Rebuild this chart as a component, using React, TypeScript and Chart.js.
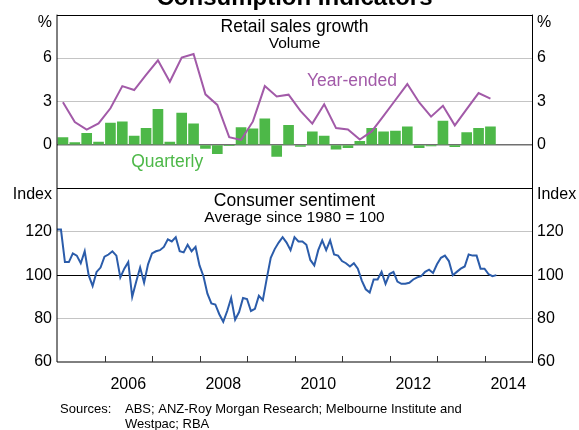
import React, { useEffect, useRef } from 'react';
import { Chart, registerables } from 'chart.js';

Chart.register(...registerables);

// ---- Data ----
const FIRST_YEAR = 2005; // first quarter / month plotted: 2005 Q1 / Jan 2005
const LAST_YEAR = 2015;

// Retail sales volume growth, quarterly (%), 2005Q1 .. 2014Q1
const retailQuarterly = [
  0.5, 0.15, 0.8, 0.2,
  1.5, 1.6, 0.6, 1.15,
  2.45, 0.2, 2.2, 1.45,
  -0.25, -0.6, -0.05, 1.2,
  1.1, 1.8, -0.8, 1.35,
  -0.1, 0.9, 0.6, -0.3,
  -0.2, 0.25, 1.15, 0.9,
  0.95, 1.25, -0.2, -0.07,
  1.65, -0.12, 0.85, 1.15,
  1.25,
];

// Retail sales volume growth, year-ended (%), 2005Q1 .. 2014Q1
const retailYearEnded = [
  2.95, 1.58, 1.05, 1.48,
  2.53, 4.06, 3.79, 4.84,
  5.84, 4.36, 6.03, 6.28,
  3.49, 2.76, 0.53, 0.34,
  1.62, 4.06, 3.35, 3.47,
  2.35, 1.47, 2.81, 1.16,
  1.07, 0.37, 0.93, 2.0,
  3.1, 4.2, 2.93, 1.95,
  2.7, 1.35, 2.47, 3.58,
  3.2,
];

// Consumer sentiment index, monthly, Jan 2005 .. Apr 2014
const sentiment = [
  121, 121, 106, 106, 110, 109, 105.5, 111, 100, 95, 101.5, 103.5,
  108.5, 109.5, 111, 109, 99, 103, 106, 90, 97, 103.5, 96.5, 105,
  110, 111, 111.5, 113, 116.5, 115.5, 117.5, 111, 110.5, 114, 111, 113,
  104.5, 99.5, 91.5, 87, 86.5, 82, 78.5, 83.5, 89.5, 79.5, 83, 89.5,
  89, 83.5, 84.5, 90.5, 88.5, 98.5, 108, 112, 115, 117.5, 115, 111.5,
  117.5, 115.5, 115.5, 114, 107, 104.5, 111.5, 116, 111.5, 116, 109.5, 109,
  106.5, 105.5, 104, 105.5, 103, 97.5, 93.5, 92, 98, 98, 101.5, 96,
  100.5, 101.5, 97, 96, 96, 96.5, 98, 99, 99.5, 101.5, 102.5, 101,
  105, 108, 109, 106.5, 100, 101.5, 103, 104, 109.5, 109, 109, 103,
  103, 100.5, 99.5, 100,
];

const yearLabels = ['2006', '2008', '2010', '2012', '2014'];
const topTicks = [-3, 0, 3, 6, 9];
const bottomTicks = [60, 80, 100, 120, 140];

const GREEN = '#4db848';
const PURPLE = '#a25aa8';
const BLUE = '#2b5caa';
const FONT = 'Arial, "Liberation Sans", Helvetica, sans-serif';

const annotate = {
  id: 'annotate',
  afterDraw(chart: any) {
    const { ctx, chartArea: ca, scales } = chart;
    const x = scales.x;
    const yT = scales.yTop;
    const yB = scales.yBot;
    const cx = (ca.left + ca.right) / 2;
    ctx.save();

    const hline = (y: number, x1: number, x2: number, color: string, crisp = true) => {
      const yy = crisp ? Math.round(y) + 0.5 : Math.round(y);
      ctx.beginPath();
      ctx.strokeStyle = color;
      ctx.lineWidth = 1;
      ctx.moveTo(x1, yy);
      ctx.lineTo(x2, yy);
      ctx.stroke();
    };
    const vline = (xv: number, y1: number, y2: number, color: string, crisp = true) => {
      const xx = crisp ? Math.round(xv) + 0.5 : Math.round(xv);
      ctx.beginPath();
      ctx.strokeStyle = color;
      ctx.lineWidth = 1;
      ctx.moveTo(xx, y1);
      ctx.lineTo(xx, y2);
      ctx.stroke();
    };

    // frame
    hline(yT.getPixelForValue(9), ca.left, ca.right, '#000');
    hline(yB.getPixelForValue(140), ca.left, ca.right, '#000');
    hline(yB.getPixelForValue(60), ca.left, ca.right, '#000', false);
    vline(ca.left, ca.top, ca.bottom, '#000', false);
    vline(ca.right, ca.top, ca.bottom + 1, '#000');

    // year tick marks on bottom axis
    for (let yr = FIRST_YEAR + 1; yr < LAST_YEAR; yr++) {
      const px = x.getPixelForValue(yr);
      vline(px, ca.bottom - 6, ca.bottom, '#333');
    }

    ctx.fillStyle = '#000';
    ctx.textBaseline = 'alphabetic';

    // chart title (cut off at the top)
    ctx.textAlign = 'center';
    ctx.font = `bold 24px ${FONT}`;
    ctx.fillText('Consumption Indicators', cx, 5);

    // panel titles
    ctx.font = `17.5px ${FONT}`;
    ctx.fillText('Retail sales growth', cx, yT.top + 17.5);
    ctx.fillText('Consumer sentiment', cx, yB.top + 17.5);
    ctx.font = `15.5px ${FONT}`;
    ctx.fillText('Volume', cx, yT.top + 33.5);
    ctx.fillText('Average since 1980 = 100', cx, yB.top + 34);

    // series labels
    ctx.font = `17.5px ${FONT}`;
    ctx.fillStyle = PURPLE;
    ctx.fillText('Year-ended', x.getPixelForValue(2011.21), yT.getPixelForValue(4.1));
    ctx.fillStyle = GREEN;
    ctx.fillText('Quarterly', x.getPixelForValue(2007.32), yT.getPixelForValue(-1.55));

    // unit labels
    ctx.fillStyle = '#000';
    ctx.font = `16px ${FONT}`;
    ctx.textBaseline = 'middle';
    ctx.textAlign = 'right';
    ctx.fillText('%', ca.left - 5, yT.getPixelForValue(9) + 8);
    ctx.fillText('Index', ca.left - 5, yB.getPixelForValue(140) + 6);
    ctx.textAlign = 'left';
    ctx.fillText('%', ca.right + 5, yT.getPixelForValue(9) + 8);
    ctx.fillText('Index', ca.right + 5, yB.getPixelForValue(140) + 6);

    // sources
    ctx.textBaseline = 'alphabetic';
    ctx.font = `13px ${FONT}`;
    ctx.fillText('Sources:', 60, 412.5);
    ctx.fillText('ABS; ANZ-Roy Morgan Research; Melbourne Institute and', 125, 412.5);
    ctx.fillText('Westpac; RBA', 125, 427.5);

    ctx.restore();
  },
};

export default function App() {
  const ref = useRef<HTMLCanvasElement>(null);

  useEffect(() => {
    const canvas = ref.current;
    if (!canvas) return;
    const qx = (i: number) => FIRST_YEAR + i / 4 + 0.125;
    const mx = (i: number) => FIRST_YEAR + i / 12;

    const gridColor = (special: number, edges: number[], specialColor: string) => (c: any) => {
      const v = c.tick && c.tick.value;
      if (edges.includes(v)) return 'rgba(0,0,0,0)';
      if (v === special) return specialColor;
      return '#c4c4c4';
    };

    const tickFont = { family: FONT, size: 16 };

    const leftTop = {
      type: 'linear',
      position: 'left',
      stack: 'left',
      stackWeight: 1,
      min: -3,
      max: 9,
      afterBuildTicks: (s: any) => {
        s.ticks = topTicks.map((v) => ({ value: v }));
      },
      afterFit: (s: any) => {
        s.width = 57;
      },
      border: { display: false },
      grid: {
        drawTicks: false,
        color: gridColor(0, [-3, 9], '#707070') as any,
        lineWidth: (c: any) => (c.tick && c.tick.value === 0 ? 1.6 : 1),
      },
      ticks: {
        padding: 5,
        color: '#000',
        font: tickFont,
        callback: (v: any) => (v === 9 || v === -3 ? '' : String(v)),
      },
    };
    const leftBot = {
      type: 'linear',
      position: 'left',
      stack: 'left',
      stackWeight: 1,
      min: 60,
      max: 140,
      afterBuildTicks: (s: any) => {
        s.ticks = bottomTicks.map((v) => ({ value: v }));
      },
      afterFit: (s: any) => {
        s.width = 57;
      },
      border: { display: false },
      grid: {
        drawTicks: false,
        color: gridColor(100, [60, 140], '#000') as any,
      },
      ticks: {
        padding: 5,
        color: '#000',
        font: tickFont,
        callback: (v: any) => (v === 140 ? '' : String(v)),
      },
    };
    const rightTop = {
      type: 'linear',
      position: 'right',
      stack: 'right',
      stackWeight: 1,
      min: -3,
      max: 9,
      afterBuildTicks: (s: any) => {
        s.ticks = topTicks.map((v) => ({ value: v }));
      },
      afterFit: (s: any) => {
        s.width = 47;
      },
      border: { display: false },
      grid: { display: false, drawTicks: false },
      ticks: {
        padding: 5,
        color: '#000',
        font: tickFont,
        callback: (v: any) => (v === 9 || v === -3 ? '' : String(v)),
      },
    };
    const rightBot = {
      type: 'linear',
      position: 'right',
      stack: 'right',
      stackWeight: 1,
      min: 60,
      max: 140,
      afterBuildTicks: (s: any) => {
        s.ticks = bottomTicks.map((v) => ({ value: v }));
      },
      afterFit: (s: any) => {
        s.width = 47;
      },
      border: { display: false },
      grid: { display: false, drawTicks: false },
      ticks: {
        padding: 5,
        color: '#000',
        font: tickFont,
        callback: (v: any) => (v === 140 ? '' : String(v)),
      },
    };

    const chart = new Chart(canvas, {
      type: 'line',
      data: {
        datasets: [
          {
            type: 'line',
            label: 'Year-ended',
            data: retailYearEnded.map((v, i) => ({ x: qx(i), y: v })),
            xAxisID: 'x',
            yAxisID: 'yTop',
            borderColor: PURPLE,
            borderWidth: 2,
            pointRadius: 0,
            tension: 0,
            order: 0,
          },
          {
            type: 'line',
            label: 'Consumer sentiment',
            data: sentiment.map((v, i) => ({ x: mx(i), y: v })),
            xAxisID: 'x',
            yAxisID: 'yBot',
            borderColor: BLUE,
            borderWidth: 2,
            pointRadius: 0,
            tension: 0,
            order: 1,
          },
          {
            type: 'bar',
            label: 'Quarterly',
            data: retailQuarterly.map((v, i) => ({ x: qx(i), y: v })),
            xAxisID: 'x',
            yAxisID: 'yTop',
            backgroundColor: GREEN,
            borderWidth: 0,
            barThickness: 10,
            order: 2,
          } as any,
        ],
      },
      options: {
        responsive: false,
        animation: false,
        maintainAspectRatio: false,
        layout: { padding: { top: 12, left: 0, right: 0, bottom: 0 } },
        plugins: {
          legend: { display: false },
          tooltip: { enabled: false },
          title: { display: false },
        },
        scales: {
          x: {
            type: 'linear',
            position: 'bottom',
            min: FIRST_YEAR,
            max: LAST_YEAR,
            offset: false,
            grid: { display: false, offset: false },
            border: { display: false },
            afterBuildTicks: (s: any) => {
              s.ticks = yearLabels.map((l) => ({ value: Number(l) + 0.5 }));
            },
            afterFit: (s: any) => {
              s.height = 68;
            },
            ticks: {
              autoSkip: false,
              maxRotation: 0,
              minRotation: 0,
              padding: 5,
              color: '#000',
              font: tickFont,
              callback: (v: any) => String(Math.floor(Number(v))),
            },
          },
          // left stack is laid out in reverse order: the last one goes on top
          yBot: leftBot,
          yTop: leftTop,
          yTopR: rightTop,
          yBotR: rightBot,
        } as any,
      },
      plugins: [annotate],
    });

    return () => chart.destroy();
  }, []);

  return (
    <div style={{ position: 'absolute', left: 0, top: 0, width: 579, height: 430, background: '#fff' }}>
      <canvas ref={ref} width={579} height={430} style={{ display: 'block', width: 579, height: 430 }} />
    </div>
  );
}
